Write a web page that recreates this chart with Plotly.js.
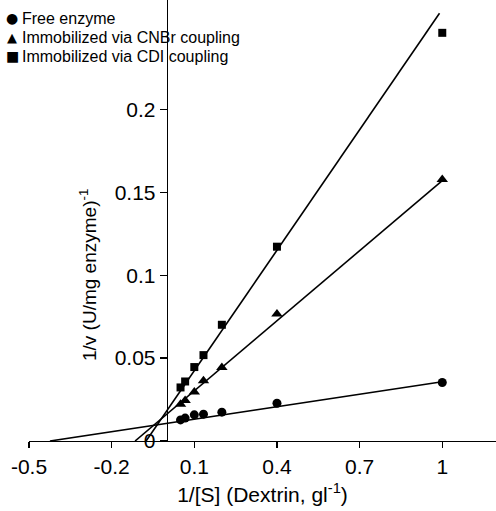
<!DOCTYPE html>
<html>
<head>
<meta charset="utf-8">
<script src="https://cdn.plot.ly/plotly-3.0.1.min.js"></script>
<style>html,body{margin:0;padding:0;background:#fff;}#chart{width:496px;height:511px;}</style>
</head>
<body>
<div id="chart"></div>
<script>
// Substrate reciprocal concentrations, 1/[S] (g^-1 l)
const invS = [0.05, 0.0667, 0.1, 0.1333, 0.2, 0.4, 1.0];
// 1/v values (U/mg enzyme)^-1
const freeEnzyme = [0.0127, 0.0138, 0.0158, 0.0162, 0.0174, 0.0228, 0.0353];
const cnbrCoupling = [0.0222, 0.0244, 0.0295, 0.0363, 0.0443, 0.0766, 0.1577];
const cdiCoupling = [0.0323, 0.0359, 0.0446, 0.0518, 0.0701, 0.1172, 0.2462];

// Fitted Lineweaver-Burk lines (end points)
const freeLineX = [-0.424, 1.0];
const freeLineY = [0.0, 0.0357];
const cnbrLineX = [-0.115, 1.0];
const cnbrLineY = [0.0, 0.157];
const cdiLineX = [-0.075, 0.99];
const cdiLineY = [0.0, 0.258];

// Axis ticks
const xTickVals = [-0.5, -0.2, 0.1, 0.4, 0.7, 1];
const xTickText = ['-0.5', '-0.2', '0.1', '0.4', '0.7', '1'];
const yTickVals = [0, 0.05, 0.1, 0.15, 0.2];
const yTickText = ['0', '0.05', '0.1', '0.15', '0.2'];

const seriesNames = ['Free enzyme', 'Immobilized via CNBr coupling', 'Immobilized via CDI coupling'];
const legendGlyphs = ['\u25CF', '\u25B2', '\u25A0'];
const legendGlyphSizes = [14, 13, 14];

const xRange = [-0.5, 1.195];
const yRange = [0, 0.266];

const lineStyle = {color: 'black', width: 1.6};
const traces = [
  {x: freeLineX, y: freeLineY, mode: 'lines', line: lineStyle, showlegend: false, hoverinfo: 'skip'},
  {x: cnbrLineX, y: cnbrLineY, mode: 'lines', line: lineStyle, showlegend: false, hoverinfo: 'skip'},
  {x: cdiLineX, y: cdiLineY, mode: 'lines', line: lineStyle, showlegend: false, hoverinfo: 'skip'},
  {x: invS, y: freeEnzyme, name: seriesNames[0], mode: 'markers', marker: {symbol: 'circle', size: 9, color: 'black'}, showlegend: false},
  {x: invS, y: cnbrCoupling, name: seriesNames[1], mode: 'markers', marker: {symbol: 'triangle-up', size: 10, color: 'black'}, showlegend: false},
  {x: invS, y: cdiCoupling, name: seriesNames[2], mode: 'markers', marker: {symbol: 'square', size: 8, color: 'black'}, showlegend: false}
];

const font = {family: 'Liberation Sans, Arial, sans-serif', color: 'black'};
const glyphFont = {family: 'DejaVu Sans, sans-serif', color: 'black'};
const yAxisPos = (0 - xRange[0]) / (xRange[1] - xRange[0]);

const legendAnn = [];
seriesNames.forEach((n, i) => {
  const yy = (441 - (18 + 19 * i)) / 441;
  legendAnn.push({
    xref: 'paper', yref: 'paper', x: (12 - 29) / 467, y: yy,
    xanchor: 'center', yanchor: 'middle', showarrow: false,
    text: legendGlyphs[i], font: Object.assign({}, glyphFont, {size: legendGlyphSizes[i]})
  });
  legendAnn.push({
    xref: 'paper', yref: 'paper', x: (20 - 29) / 467, y: yy,
    xanchor: 'left', yanchor: 'middle', showarrow: false,
    text: n, font: Object.assign({}, font, {size: 16})
  });
});

const layout = {
  width: 496, height: 511,
  margin: {l: 29, r: 0, t: 0, b: 70},
  paper_bgcolor: 'white', plot_bgcolor: 'white',
  showlegend: false,
  font: font,
  xaxis: {
    range: xRange, tickvals: xTickVals, ticktext: xTickText,
    showgrid: false, zeroline: false, showline: true, linecolor: 'black', linewidth: 1.3,
    ticks: 'outside', ticklen: 6, tickwidth: 1.3, tickcolor: 'black',
    tickfont: Object.assign({}, font, {size: 21}),
    title: {text: '1/[S] (Dextrin, gl<sup>-1</sup>)', font: Object.assign({}, font, {size: 21}), standoff: 10}
  },
  yaxis: {
    range: yRange, tickvals: yTickVals, ticktext: yTickText,
    anchor: 'free', position: yAxisPos,
    showgrid: false, zeroline: false, showline: true, linecolor: 'black', linewidth: 1.3,
    ticks: 'outside', ticklen: 7, tickwidth: 1.3, tickcolor: 'black',
    tickfont: Object.assign({}, font, {size: 21})
  },
  annotations: legendAnn.concat([{
    xref: 'paper', yref: 'paper', x: (88 - 29) / 467, y: (441 - 275) / 441,
    xanchor: 'center', yanchor: 'middle', showarrow: false, textangle: -90,
    text: '1/v (U/mg enzyme)<sup>-1</sup>',
    font: Object.assign({}, font, {size: 19})
  }])
};

Plotly.newPlot('chart', traces, layout, {displayModeBar: false, staticPlot: true});
</script>
</body>
</html>
